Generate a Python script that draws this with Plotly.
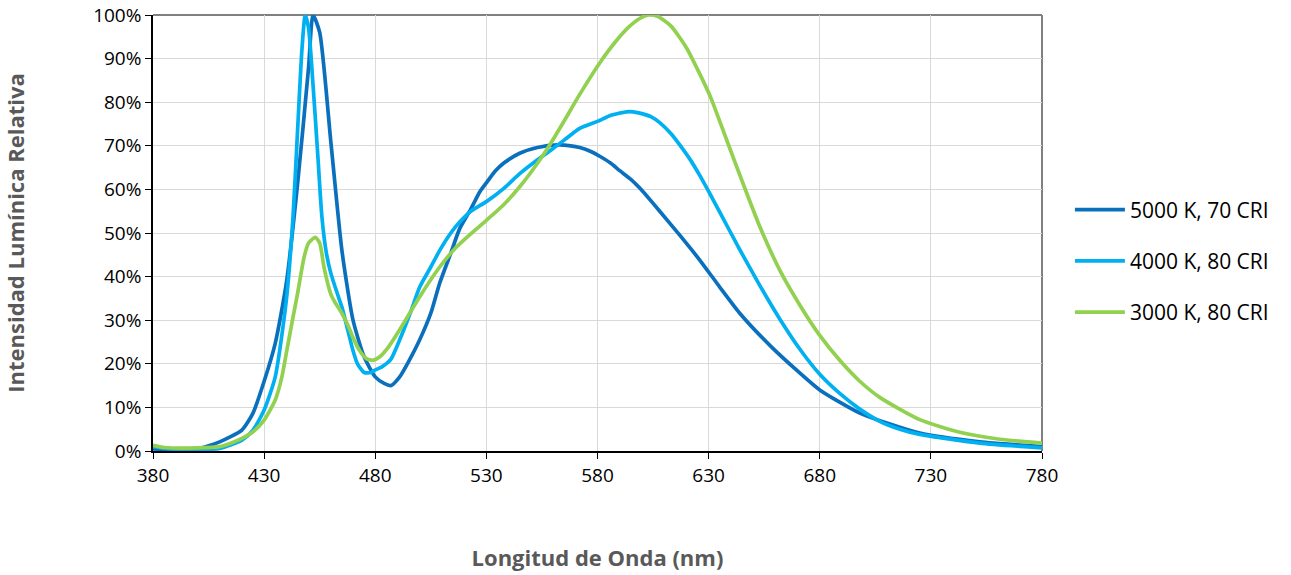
import plotly.graph_objects as go

# ---- data ----
nm_5000 = [380, 390, 400, 410, 420, 425, 430, 435, 440, 445, 450, 452, 455, 460, 465, 470, 475, 480, 484, 487,
           491, 495, 500, 505, 509, 514, 518, 523, 527, 530, 534, 538, 545, 553, 562, 568, 572, 577, 581, 586,
           590, 595, 599, 602, 608, 617, 626, 635, 644, 658, 671, 680, 698, 725, 752, 780]
val_5000 = [0.5, 0.3, 0.5, 2.1, 4.8, 8.7, 16, 24.7, 38.5, 61, 88, 100, 96, 71, 46, 30, 21.6, 17, 15.5, 15,
            17, 20.5, 25.5, 31.6, 38.5, 45.4, 51, 55.5, 59.4, 61.5, 64.2, 66.1, 68.3, 69.6, 70.2, 70, 69.6, 68.7, 67.6, 66,
            64.3, 62.3, 60.3, 58.6, 55, 49.5, 43.8, 37.6, 31.6, 24, 17.9, 14, 8.7, 4.1, 2.1, 1]

nm_4000 = [380, 390, 400, 410, 420, 425, 430, 435, 440, 443, 445, 447, 448.5, 450, 452, 454, 456, 458, 460, 463,
           465, 468, 470, 472, 475, 478, 480, 483, 487, 491, 496, 500, 505, 509, 514, 518, 523, 530, 538, 545,
           553, 559, 565, 572, 580, 586, 590, 593, 596, 599, 604, 608, 613, 617, 622, 626, 631, 635, 644, 653,
           662, 671, 680, 689, 698, 707, 716, 725, 752, 780]
val_4000 = [1, 0.4, 0.3, 0.6, 2.5, 4.8, 9.4, 17, 34.6, 53.7, 73, 92, 100, 97, 84, 69, 53.7, 45.4, 40.8, 36,
            33, 27, 23, 20, 18, 18, 18.6, 19.3, 21, 25.5, 32, 37.6, 42.2, 46, 50, 52.5, 55, 57.2, 60.3, 63.6,
            66.8, 69, 71.3, 74, 75.6, 77, 77.5, 77.8, 77.8, 77.5, 76.7, 75.3, 72.8, 70.2, 66.6, 63.2, 58.6, 54.8, 46.2, 38,
            30.3, 23.4, 17.6, 13.2, 9.6, 6.8, 5, 3.8, 1.8, 0.7]

nm_3000 = [380, 385, 400, 410, 415, 420, 425, 430, 435, 438, 440, 443, 445, 448, 450, 453, 455, 457, 460, 462,
           465, 468, 470, 473, 476, 479, 482, 486, 491, 500, 509, 516, 523, 530, 538, 545, 553, 559, 565, 572,
           581, 588, 594, 599, 603, 607, 613, 620, 626, 631, 638, 645, 653, 662, 671, 680, 689, 698, 707, 725,
           743, 761, 780]
val_3000 = [1.3, 0.8, 0.7, 1, 1.8, 2.9, 4.4, 7.1, 11.7, 17, 22.5, 30.7, 36, 44.5, 47.7, 49, 47.7, 42, 36, 34,
            31.6, 28.5, 26, 23, 21.2, 20.8, 21.6, 23.9, 27.8, 35.4, 42.2, 46.5, 49.8, 52.9, 56.6, 60.6, 66, 70.6, 75.7, 81.8,
            89, 93.8, 97.2, 99.2, 100, 99.7, 97.5, 92.5, 86.5, 81, 71.5, 62, 51.5, 41.5, 33.5, 26.5, 20.8, 16, 12.3, 7.2,
            4.3, 2.7, 1.8]

series_names = ["5000 K, 70 CRI", "4000 K, 80 CRI", "3000 K, 80 CRI"]
series_colors = ["#0A70BE", "#00B0F0", "#92D050"]
x_ticks = [380, 430, 480, 530, 580, 630, 680, 730, 780]
y_ticks = [0, 10, 20, 30, 40, 50, 60, 70, 80, 90, 100]
y_tick_labels = [f"{v}%" for v in y_ticks]

fig = go.Figure()
for i, (xs, ys) in enumerate([(nm_5000, val_5000), (nm_4000, val_4000), (nm_3000, val_3000)]):
    fig.add_trace(go.Scatter(
        x=xs, y=ys, mode="lines", name=series_names[i], legendgroup=f"g{i}",
        line=dict(color=series_colors[i], width=3.7, shape="spline", smoothing=0.6),
    ))

font_family = "Open Sans, Noto Sans, DejaVu Sans, sans-serif"

fig.update_layout(
    width=1291, height=575,
    margin=dict(l=153, r=249, t=15, b=124, autoexpand=False),
    paper_bgcolor="white", plot_bgcolor="white",
    font=dict(family=font_family, size=19, color="#000000"),
    showlegend=True,
    legend=dict(
        x=1.0314, xanchor="left", y=0.436, yanchor="middle",
        font=dict(size=21, color="#000000"),
        traceorder="grouped", tracegroupgap=21,
        bgcolor="rgba(0,0,0,0)", borderwidth=0, itemwidth=50,
    ),
    xaxis=dict(
        range=[380, 780], tickvals=x_ticks, ticktext=[str(v) for v in x_ticks],
        showgrid=True, gridcolor="#D9D9D9", gridwidth=1,
        showline=True, linecolor="#000000", linewidth=1.5,
        ticks="outside", ticklen=6, tickcolor="#000000",
        zeroline=False, automargin=False,
        title=dict(text="<b>Longitud de Onda (nm)</b>", font=dict(size=22, color="#595959"), standoff=64),
    ),
    yaxis=dict(
        range=[0, 100], tickvals=y_ticks, ticktext=y_tick_labels,
        showgrid=True, gridcolor="#D9D9D9", gridwidth=1,
        showline=True, linecolor="#000000", linewidth=1.5,
        ticks="outside", ticklen=6, tickcolor="#000000",
        zeroline=False, automargin=False,
        title=dict(text="<b>Intensidad Lumínica Relativa</b>", font=dict(size=22, color="#595959"), standoff=67),
    ),
    shapes=[
        dict(type="line", xref="paper", yref="paper", x0=0, x1=1, y0=1, y1=1,
             line=dict(color="#808080", width=2), layer="below"),
        dict(type="line", xref="paper", yref="paper", x0=1, x1=1, y0=0, y1=1,
             line=dict(color="#808080", width=2), layer="below"),
    ],
)

fig.write_html("out.html", config={"displayModeBar": False},
               post_script="document.body.style.margin='0';")
